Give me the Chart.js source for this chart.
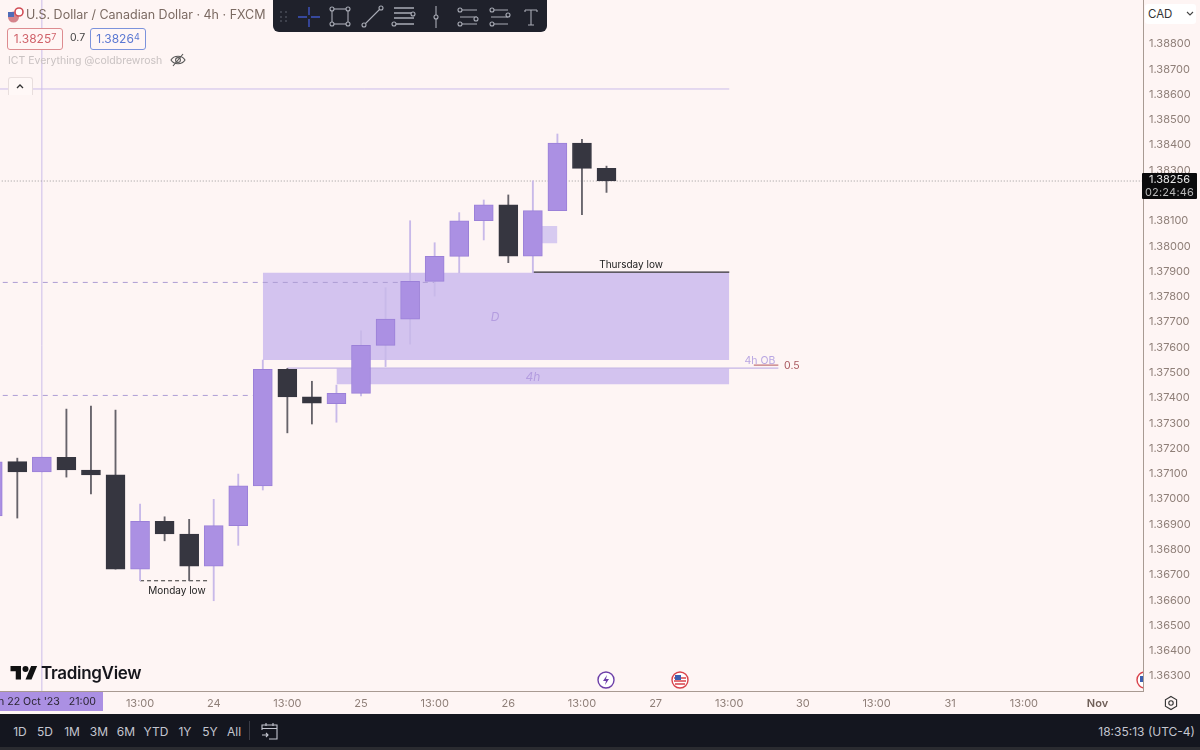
<!DOCTYPE html>
<html>
<head>
<meta charset="utf-8">
<title>USD/CAD 4h</title>
<script src="https://cdn.jsdelivr.net/npm/chart.js@4"></script>
<style>
    html, body { margin: 0; padding: 0; background: #fef5f4; }
    body { width: 1200px; height: 750px; position: relative; overflow: hidden; font-family: Inter, sans-serif; }
    canvas { position: absolute; left: 0; top: 0; }
    .abs { position: absolute; white-space: nowrap; }
    sup { font-size: 9px; vertical-align: 3px; line-height: 0; }
    .pricebox { top: 28px; height: 20px; line-height: 20px; width: 54px; text-align: center; font-size: 12px; border-radius: 3px; background: #fff6f5; }
    .range { top: 724px; font-size: 12px; color: #c4c6d0; transform: translateX(-50%); }
</style>
</head>
<body>
<canvas id="chart" width="1200" height="750"></canvas>

<!-- header -->
<svg class="abs" style="left:7px;top:6px" width="17" height="17" viewBox="0 0 17 17">
    <circle cx="6.5" cy="11" r="5.5" fill="#d5848c"/><rect x="1" y="6" width="6" height="5" fill="#4f6cb8"/>
    <circle cx="12" cy="6" r="4" fill="#fff" stroke="#d04d55" stroke-width="1.6"/>
</svg>
<div class="abs" style="left:26px;top:7px;font-size:12.5px;color:#7b6a62">U.S. Dollar / Canadian Dollar · 4h · FXCM</div>
<div class="abs pricebox" style="left:7px;border:1px solid #dd8c90;color:#d0636b">1.3825<sup>7</sup></div>
<div class="abs" style="left:70px;top:31px;font-size:10.5px;color:#444">0.7</div>
<div class="abs pricebox" style="left:90px;border:1px solid #7c93dc;color:#5b78d2">1.3826<sup>4</sup></div>
<div class="abs" style="left:8px;top:54px;font-size:10.5px;color:#c9c2c2">ICT Everything @coldbrewrosh</div>
<svg class="abs" style="left:170px;top:53px" width="16" height="14" viewBox="0 0 16 14" fill="none" stroke="#555" stroke-width="1.1">
    <path d="M1 7c3-5 11-5 14 0c-3 5-11 5-14 0z"/><circle cx="8" cy="7" r="2.4"/><path d="M3 13L13 1"/>
</svg>
<div class="abs" style="left:8px;top:77px;width:23px;height:17px;border:1px solid #e8dedd;border-bottom:0;border-radius:3px 3px 0 0;background:#fff8f7"></div>
<svg class="abs" style="left:14px;top:82px" width="12" height="8" viewBox="0 0 12 8" fill="none" stroke="#333" stroke-width="1.3"><path d="M3 6l3-3l3 3"/></svg>

<!-- drawing toolbar -->
<div class="abs" style="left:273px;top:0;width:274px;height:32px;background:#1f212b;border-radius:0 0 6px 6px">
    <svg width="274" height="32" viewBox="0 0 274 32" fill="none" stroke="#a9acb6" stroke-width="1.1">
        <g fill="#4a4d58" stroke="none"><circle cx="8" cy="12" r="1"/><circle cx="13" cy="12" r="1"/><circle cx="8" cy="17" r="1"/><circle cx="13" cy="17" r="1"/><circle cx="8" cy="21" r="1"/><circle cx="13" cy="21" r="1"/></g>
        <path d="M25 17h9m4 0h9M36 7v8m0 4v8" stroke="#3f55c4" stroke-width="1.4"/>
        <rect x="59" y="9" width="16" height="15"/><circle cx="59" cy="9" r="2" fill="#1f212b"/><circle cx="75" cy="9" r="2" fill="#1f212b"/><circle cx="59" cy="24" r="2" fill="#1f212b"/><circle cx="75" cy="24" r="2" fill="#1f212b"/>
        <path d="M92 24L107 9"/><circle cx="91" cy="25" r="2" fill="#1f212b"/><circle cx="108" cy="8" r="2" fill="#1f212b"/>
        <path d="M121 8h20M121 13h18M121 18h20M121 24h20" stroke-width="1.4"/><circle cx="140" cy="14" r="2" fill="#1f212b"/><circle cx="121" cy="24" r="2" fill="#1f212b"/>
        <path d="M163 6v22"/><circle cx="163" cy="17" r="2" fill="#1f212b"/>
        <path d="M187 10h17M187 17h17M187 24h17"/><circle cx="187" cy="10" r="2" fill="#1f212b"/><circle cx="203" cy="19" r="2" fill="#1f212b"/><circle cx="187" cy="24" r="2" fill="#1f212b"/>
        <path d="M218 10h17M218 17h17M218 24h17"/><circle cx="219" cy="10" r="2" fill="#1f212b"/><circle cx="235" cy="15" r="2" fill="#1f212b"/><circle cx="219" cy="24" r="2" fill="#1f212b"/>
        <path d="M252 10h12M258 10v15M255 25h6M252 10v2M264 10v2"/>
    </svg>
</div>

<!-- right price axis extras -->
<div class="abs" style="left:1145px;top:4px;width:51px;height:20px;line-height:20px;background:#fff;border-radius:3px;font-size:11.5px;color:#333;text-indent:3px">CAD</div>
<svg class="abs" style="left:1186px;top:11px" width="8" height="6" viewBox="0 0 8 6" fill="none" stroke="#444" stroke-width="1.1"><path d="M1 1l3 3l3-3"/></svg>
<div class="abs" style="left:1142px;top:173px;width:55px;height:26px;background:#0b0b0c;color:#e8e8e8;font-size:11px;line-height:13px;text-align:center;border-radius:1px">1.38256<br><span style="color:#b9b9b9;letter-spacing:.2px">02:24:46</span></div>

<!-- watermark and event markers -->
<svg class="abs" style="left:10px;top:666px" width="28" height="15" viewBox="0 0 36 20" fill="#111"><path d="M14 18H7V7H0V0h14v18zM28 18h-8L27.5 0h8L28 18z"/><circle cx="20" cy="4" r="4"/></svg>
<div class="abs" style="left:41px;top:663px;font-size:17px;font-weight:600;color:#16161c;letter-spacing:-.3px">TradingView</div>
<svg class="abs" style="left:597px;top:671px" width="18" height="18" viewBox="0 0 18 18"><circle cx="9" cy="9" r="8" fill="#fff" stroke="#6d3fa8" stroke-width="1.4"/><path d="M10 4L6 10h3l-1 4l4-6H9z" fill="#6d3fa8"/></svg>
<svg class="abs" style="left:671px;top:671px" width="18" height="18" viewBox="0 0 18 18"><circle cx="9" cy="9" r="8" fill="#fff" stroke="#d9434b" stroke-width="1.4"/><path d="M3 7h12M3 10h12M4 13h10" stroke="#d9434b" stroke-width="1.3"/><rect x="4" y="4" width="6" height="5" fill="#3c5fb0"/></svg>
<div class="abs" style="left:1136px;top:671px;width:7px;height:18px;overflow:hidden"><svg width="18" height="18" viewBox="0 0 18 18"><circle cx="9" cy="9" r="8" fill="#fff" stroke="#d9434b" stroke-width="1.4"/><rect x="4" y="5" width="6" height="6" fill="#3c5fb0"/></svg></div>

<!-- crosshair date and settings -->
<div class="abs" style="left:0;top:692px;width:103px;height:19px;background:#ab90e3;overflow:hidden;font-size:10.6px;line-height:19px;color:#2a2530"><span class="abs" style="right:7px;top:0;white-space:pre">Sun 22 Oct '23   21:00</span></div>
<svg class="abs" style="left:1163px;top:695px" width="16" height="16" viewBox="0 0 16 16" fill="none" stroke="#333" stroke-width="1.1"><path d="M8 1.5l5.6 3.2v6.6L8 14.5l-5.6-3.2V4.7z"/><circle cx="8" cy="8" r="2.2"/></svg>

<!-- bottom bar -->
<div class="abs" style="left:0;top:714px;width:1200px;height:33px;background:#14161f"></div>
<div class="abs" style="left:0;top:747px;width:1200px;height:3px;background:#2a2b30"></div>
<div class="abs range" style="left:20px">1D</div>
<div class="abs range" style="left:45px">5D</div>
<div class="abs range" style="left:72px">1M</div>
<div class="abs range" style="left:99px">3M</div>
<div class="abs range" style="left:126px">6M</div>
<div class="abs range" style="left:156px">YTD</div>
<div class="abs range" style="left:185px">1Y</div>
<div class="abs range" style="left:210px">5Y</div>
<div class="abs range" style="left:234px">All</div>
<div class="abs" style="left:249px;top:721px;width:1px;height:19px;background:#3a3c46"></div>
<svg class="abs" style="left:261px;top:722px" width="17" height="18" viewBox="0 0 17 18" fill="none" stroke="#c4c6d0" stroke-width="1.1"><path d="M1 8V3h15v14H8M1 6.5h15M5 1v3M12 1v3M1 13h6M5 11l2 2l-2 2"/></svg>
<div class="abs" style="right:5px;top:724px;font-size:12px;color:#c4c6d0">18:35:13 (UTC-4)</div>

<script>
// candles, first one is cut off by the left edge
var candleIndex = [-1, 0, 1, 2, 3, 4, 5, 6, 7, 8, 9, 10, 11, 12, 13, 14, 15, 16, 17, 18, 19, 20, 21, 22, 23, 24];
var opens  = [1.36929, 1.37144, 1.37103, 1.37161, 1.37111, 1.37092, 1.36719, 1.36908, 1.36858, 1.36731, 1.36891, 1.37048, 1.37509, 1.37400, 1.37373, 1.37414, 1.37604, 1.37708, 1.37857, 1.37956, 1.38097, 1.38160, 1.37957, 1.38137, 1.38404, 1.38304];
var highs  = [1.37200, 1.37158, 1.37162, 1.37352, 1.37364, 1.37348, 1.36976, 1.36926, 1.36916, 1.36995, 1.37095, 1.37546, 1.37513, 1.37462, 1.37447, 1.37662, 1.37832, 1.38097, 1.38010, 1.38129, 1.38179, 1.38199, 1.38255, 1.38440, 1.38419, 1.38313];
var lows   = [1.36900, 1.36921, 1.37103, 1.37083, 1.37016, 1.36719, 1.36673, 1.36831, 1.36673, 1.36594, 1.36813, 1.37032, 1.37258, 1.37293, 1.37300, 1.37404, 1.37520, 1.37609, 1.37799, 1.37891, 1.38021, 1.37931, 1.37891, 1.38154, 1.38121, 1.38209];
var closes = [1.37143, 1.37103, 1.37162, 1.37111, 1.37092, 1.36719, 1.36908, 1.36858, 1.36731, 1.36891, 1.37048, 1.37509, 1.37400, 1.37375, 1.37414, 1.37604, 1.37708, 1.37857, 1.37956, 1.38097, 1.38160, 1.37957, 1.38137, 1.38404, 1.38304, 1.38254];

// axis ticks
var priceTicks = [1.363, 1.364, 1.365, 1.366, 1.367, 1.368, 1.369, 1.370, 1.371, 1.372, 1.373, 1.374, 1.375, 1.376, 1.377, 1.378, 1.379, 1.380, 1.381, 1.382, 1.383, 1.384, 1.385, 1.386, 1.387, 1.388];
var timeTickIndex = [5, 8, 11, 14, 17, 20, 23, 26, 29, 32, 35, 38, 41, 44];
var timeTickLabels = ['13:00', '24', '13:00', '25', '13:00', '26', '13:00', '27', '13:00', '30', '13:00', '31', '13:00', 'Nov'];

// drawn zones: [first index, last index, top price, bottom price]
var dailyZone = [10, 29, 1.37891, 1.37546];
var fourHourZone = [13, 29, 1.37514, 1.37450];
var smallZone = [21, 22, 1.38076, 1.38008];

// drawn levels: [first index, last index, price]
var topLevel = [-1, 29, 1.38618];
var upperDashed = [-1, 17, 1.37853];
var lowerDashed = [-1, 10, 1.37406];
var lastPrice = [-1, 46, 1.38254];
var thursdayLow = [21, 29, 1.37894];
var mondayLow = [5, 7.8, 1.36673];
var obLevel = [11, 31, 1.37514];
var midLevel = [30, 31, 1.37526];
var crosshairIndex = 1;

// chart notes
var noteTexts = ['Monday low', 'Thursday low', 'D', '4h', '4h OB', '0.5'];
var noteIndex = [6.5, 25, 19.46, 21, 30.25, 31.55];
var notePrices = [1.36636, 1.37926, 1.3772, 1.37483, 1.37546, 1.37526];

var BULL = '#ab90e3', BULL_EDGE = '#9b80d8', BULL_WICK = '#c8b9e9';
var BEAR = '#363640', BEAR_WICK = '#66636a';
var ZONE = '#d3c3ef', LEVEL = '#cbbcea';

var noteStyles = {
    'Monday low': { font: '10px Inter', color: '#222' },
    'Thursday low': { font: '10px Inter', color: '#222' },
    'D': { font: 'italic 12px Inter', color: '#b49de0' },
    '4h': { font: 'italic 12px Inter', color: '#b49de0' },
    '4h OB': { font: '10.5px Inter', color: '#b9a6e2' },
    '0.5': { font: '10.5px Inter', color: '#a8565c' }
};

function isBull(i) { return closes[i] >= opens[i]; }

function zoneDataset(zone, color) {
    return {
        type: 'line',
        data: [{ x: zone[0], y: zone[2] }, { x: zone[1], y: zone[2] }],
        borderWidth: 0,
        pointRadius: 0,
        backgroundColor: color,
        fill: { target: { value: zone[3] }, above: color, below: color },
        order: 8
    };
}

function levelDataset(level, color, width, dash, order) {
    return {
        type: 'line',
        data: [{ x: level[0], y: level[2] }, { x: level[1], y: level[2] }],
        borderColor: color,
        borderWidth: width,
        borderDash: dash,
        pointRadius: 0,
        fill: false,
        order: order
    };
}

var wicks = {
    type: 'bar',
    data: candleIndex.map(function (idx, i) { return { x: idx, y: [lows[i], highs[i]] }; }),
    backgroundColor: candleIndex.map(function (idx, i) { return isBull(i) ? BULL_WICK : BEAR_WICK; }),
    barThickness: 1.2,
    grouped: false,
    order: 3
};

var bodies = {
    type: 'bar',
    data: candleIndex.map(function (idx, i) { return { x: idx, y: [opens[i], closes[i]] }; }),
    backgroundColor: candleIndex.map(function (idx, i) { return isBull(i) ? BULL : BEAR; }),
    borderColor: candleIndex.map(function (idx, i) { return isBull(i) ? BULL_EDGE : BEAR; }),
    borderWidth: 1,
    borderSkipped: false,
    barThickness: 19,
    grouped: false,
    order: 1
};

var crosshair = {
    type: 'line',
    data: [{ x: crosshairIndex, y: 1.36237 }, { x: crosshairIndex, y: 1.3897 }],
    borderColor: LEVEL,
    borderWidth: 1,
    pointRadius: 0,
    fill: false,
    order: 9
};

var notesPlugin = {
    id: 'notes',
    afterDatasetsDraw: function (chart) {
        var ctx = chart.ctx, sx = chart.scales.x, sy = chart.scales.y;
        ctx.save();
        ctx.textAlign = 'center';
        ctx.textBaseline = 'middle';
        noteTexts.forEach(function (text, i) {
            ctx.font = noteStyles[text].font;
            ctx.fillStyle = noteStyles[text].color;
            ctx.fillText(text, sx.getPixelForValue(noteIndex[i]), sy.getPixelForValue(notePrices[i]) + 1);
        });
        ctx.restore();
    }
};

function isNov(c) { return c.tick && c.tick.value === 44; }

new Chart(document.getElementById('chart').getContext('2d'), {
    data: {
        datasets: [
            crosshair,
            zoneDataset(dailyZone, ZONE),
            zoneDataset(fourHourZone, ZONE),
            zoneDataset(smallZone, '#d7caf0'),
            levelDataset(topLevel, LEVEL, 1, [], 7),
            levelDataset(upperDashed, '#ad9dd4', 1, [5, 5], 6),
            levelDataset(lowerDashed, '#ad9dd4', 1, [5, 5], 6),
            levelDataset(lastPrice, '#9c9a9a', 1, [1, 2], 7),
            levelDataset(thursdayLow, '#2c2b33', 1.2, [], 4),
            levelDataset(mondayLow, '#333', 1, [4, 3], 4),
            levelDataset(obLevel, '#c4b4e6', 1.2, [], 5),
            levelDataset(midLevel, '#b3545b', 1, [], 4),
            wicks,
            bodies
        ]
    },
    options: {
        responsive: false,
        animation: false,
        layout: { padding: 0, autoPadding: false },
        plugins: { legend: { display: false }, tooltip: { enabled: false } },
        scales: {
            x: {
                type: 'linear',
                offset: false,
                min: -0.705,
                max: 45.853,
                grid: { display: false, drawTicks: false },
                border: { color: '#a89a92', width: 1 },
                afterFit: function (scale) {
                    scale.height = 59;
                    scale.paddingLeft = 0;
                    scale.paddingRight = 0;
                },
                afterBuildTicks: function (scale) {
                    scale.ticks = timeTickIndex.map(function (v) { return { value: v }; });
                },
                ticks: {
                    autoSkip: false,
                    maxRotation: 0,
                    padding: 6,
                    color: function (c) { return isNov(c) ? '#6f5f58' : '#8f7f78'; },
                    font: function (c) { return { family: 'Inter', size: 11, weight: isNov(c) ? '600' : '400' }; },
                    callback: function (value) { return timeTickLabels[timeTickIndex.indexOf(value)]; }
                }
            },
            y: {
                position: 'right',
                min: 1.36237,
                max: 1.3897,
                grid: { display: false, drawTicks: false },
                border: { color: '#a89a92', width: 1 },
                afterFit: function (scale) {
                    scale.width = 57;
                    scale.paddingTop = 0;
                    scale.paddingBottom = 0;
                },
                afterBuildTicks: function (scale) {
                    scale.ticks = priceTicks.map(function (v) { return { value: v }; });
                },
                ticks: {
                    autoSkip: false,
                    padding: 6,
                    labelOffset: 1,
                    color: '#8f7f78',
                    font: { family: 'Inter', size: 11 },
                    callback: function (value) { return value.toFixed(5); }
                }
            }
        }
    },
    plugins: [notesPlugin]
});
</script>
</body>
</html>
